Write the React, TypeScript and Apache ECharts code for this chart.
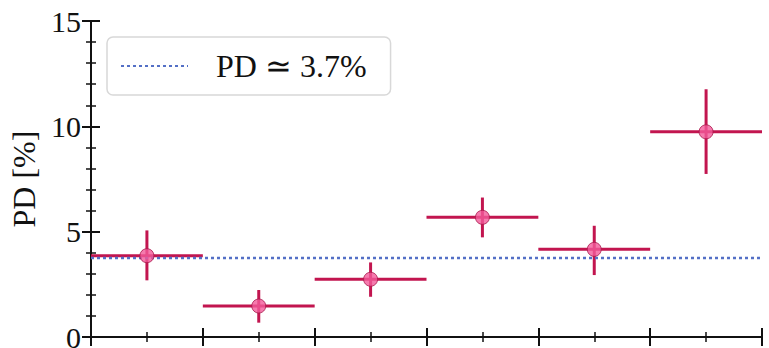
import React, { useEffect, useRef } from "react";
import * as echarts from "echarts";

const binCenters = [0.5, 1.5, 2.5, 3.5, 4.5, 5.5];
const binHalfWidths = [0.5, 0.5, 0.5, 0.5, 0.5, 0.5];
const pdValues = [3.86, 1.47, 2.74, 5.68, 4.16, 9.74];
const pdErrUp = [1.2, 0.76, 0.8, 0.94, 1.12, 2.02];
const pdErrDown = [1.17, 0.79, 0.83, 0.95, 1.22, 2.0];
const pdMean = 3.75;
const pdMeanLabel = "PD \u2243 3.7%";
const yTicks = [0, 5, 10, 15];

const FONT = "Liberation Serif";
const BAR = "#c2154f";
const FILL = "#f25a9a";
const EDGE = "#a8174a";
const LINE = "#5470c6";

export default function App() {
  const ref = useRef<HTMLDivElement>(null);
  useEffect(() => {
    const chart = echarts.init(ref.current!, undefined, { renderer: "svg" });
    const errData = binCenters.map((x, i) => [
      x,
      pdValues[i],
      binHalfWidths[i],
      pdErrDown[i],
      pdErrUp[i],
    ]);
    const axisLine = { show: true, lineStyle: { color: "#111", width: 2 } };
    const axisTick = { show: true, inside: true, length: 9, lineStyle: { color: "#111", width: 2 } };
    const minorTick = { show: true, length: 5, lineStyle: { color: "#111", width: 1.5 } };
    chart.setOption({
      animation: false,
      backgroundColor: "#fff",
      grid: { left: 91, right: 7, top: 21, bottom: 11, outerBoundsMode: "none", containLabel: false },
      legend: {
        left: 107,
        top: 37,
        data: [pdMeanLabel],
        itemWidth: 67,
        itemHeight: 14,
        padding: [13, 24, 13, 13],
        borderColor: "#d8d8d8",
        borderWidth: 1.5,
        borderRadius: 6,
        backgroundColor: "#fff",
        itemStyle: { opacity: 0 },
        textStyle: {
          fontFamily: FONT,
          fontSize: 32,
          color: "#111",
          padding: [0, 0, 0, 23],
        },
      },
      xAxis: [
        {
          type: "value",
          min: 0,
          max: 6,
          interval: 1,
          position: "bottom",
          axisLabel: { show: false },
          minorTick: { ...minorTick, splitNumber: 2 },
          axisLine,
          axisTick,
          splitLine: { show: false },
        },
        {
          type: "value",
          min: 0,
          max: 6,
          interval: 1,
          position: "top",
          axisLabel: { show: false },
          minorTick: { ...minorTick, splitNumber: 2 },
          axisLine,
          axisTick,
          splitLine: { show: false },
        },
      ],
      yAxis: [
        {
          type: "value",
          min: yTicks[0],
          max: yTicks[yTicks.length - 1],
          interval: 5,
          position: "left",
          name: "PD [%]",
          nameLocation: "middle",
          nameGap: 50,
          nameTextStyle: { fontFamily: FONT, fontSize: 32, color: "#111" },
          axisLabel: { fontFamily: FONT, fontSize: 30, color: "#111", margin: 10 },
          minorTick: { ...minorTick, splitNumber: 5 },
          axisLine,
          axisTick,
          splitLine: { show: false },
        },
        {
          type: "value",
          min: yTicks[0],
          max: yTicks[yTicks.length - 1],
          interval: 5,
          position: "right",
          axisLabel: { show: false },
          minorTick: { ...minorTick, splitNumber: 5 },
          axisLine,
          axisTick,
          splitLine: { show: false },
        },
      ],
      series: [
        {
          type: "custom",
          name: "errors",
          z: 2,
          clip: true,
          data: errData,
          renderItem: (params: any, api: any) => {
            const x = api.value(0);
            const y = api.value(1);
            const xe = api.value(2);
            const yl = api.value(3);
            const yh = api.value(4);
            const pL = api.coord([x - xe, y]);
            const pR = api.coord([x + xe, y]);
            const pB = api.coord([x, y - yl]);
            const pT = api.coord([x, y + yh]);
            const style = { stroke: BAR, lineWidth: 3, fill: "none" };
            return {
              type: "group",
              children: [
                { type: "line", shape: { x1: pL[0], y1: pL[1], x2: pR[0], y2: pR[1] }, style },
                { type: "line", shape: { x1: pB[0], y1: pB[1], x2: pT[0], y2: pT[1] }, style },
              ],
            };
          },
        },
        {
          type: "line",
          name: pdMeanLabel,
          z: 3,
          symbol: "none",
          data: [
            [0, pdMean],
            [6, pdMean],
          ],
          lineStyle: { color: LINE, width: 2.5, type: [3, 3] },
          itemStyle: { color: LINE },
        },
        {
          type: "scatter",
          name: "PD",
          z: 4,
          symbol: "circle",
          symbolSize: 14,
          data: binCenters.map((x, i) => [x, pdValues[i]]),
          itemStyle: { color: FILL, borderColor: EDGE, borderWidth: 1 },
        },
      ],
    });
    return () => chart.dispose();
  }, []);
  return (
    <div
      ref={ref}
      style={{ position: "fixed", left: 0, top: 0, width: 769, height: 348 }}
    />
  );
}
